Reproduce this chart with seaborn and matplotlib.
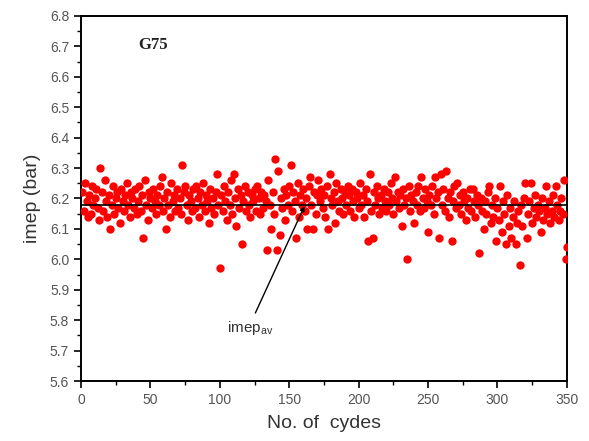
import matplotlib
matplotlib.use("Agg")
import matplotlib.pyplot as plt
import seaborn as sns
import numpy as np
import pandas as pd
from matplotlib.ticker import MultipleLocator

# ---- data ----
imep_values = [
    6.22, 6.16, 6.25, 6.19, 6.14, 6.21, 6.15, 6.24, 6.18, 6.20,
    6.23, 6.17, 6.13, 6.30, 6.22, 6.16, 6.26, 6.19, 6.14, 6.21,
    6.10, 6.18, 6.24, 6.15, 6.20, 6.22, 6.17, 6.12, 6.23, 6.19,
    6.16, 6.21, 6.25, 6.18, 6.14, 6.22, 6.20, 6.17, 6.23, 6.15,
    6.19, 6.24, 6.16, 6.21, 6.07, 6.26, 6.18, 6.13, 6.22, 6.20,
    6.17, 6.23, 6.19, 6.15, 6.21, 6.18, 6.24, 6.27, 6.16, 6.20,
    6.10, 6.22, 6.18, 6.14, 6.25, 6.19, 6.21, 6.16, 6.23, 6.17,
    6.20, 6.15, 6.31, 6.22, 6.24, 6.18, 6.13, 6.21, 6.19, 6.16,
    6.23, 6.17, 6.24, 6.20, 6.14, 6.22, 6.18, 6.25, 6.16, 6.21,
    6.19, 6.12, 6.23, 6.17, 6.20, 6.15, 6.22, 6.28, 6.18, 5.97,
    6.21, 6.16, 6.24, 6.19, 6.13, 6.22, 6.18, 6.26, 6.15, 6.28,
    6.20, 6.11, 6.23, 6.17, 6.21, 6.05, 6.19, 6.24, 6.16, 6.22,
    6.18, 6.14, 6.21, 6.19, 6.23, 6.16, 6.24, 6.20, 6.15, 6.22,
    6.17, 6.21, 6.19, 6.03, 6.26, 6.18, 6.10, 6.22, 6.15, 6.33,
    6.03, 6.29, 6.08, 6.20, 6.17, 6.23, 6.13, 6.21, 6.18, 6.24,
    6.31, 6.16, 6.22, 6.19, 6.07, 6.25, 6.14, 6.21, 6.18, 6.23,
    6.16, 6.20, 6.10, 6.24, 6.27, 6.18, 6.10, 6.22, 6.15, 6.21,
    6.26, 6.19, 6.23, 6.17, 6.21, 6.14, 6.24, 6.10, 6.28, 6.20,
    6.18, 6.22, 6.12, 6.25, 6.19, 6.16, 6.23, 6.20, 6.15, 6.22,
    6.18, 6.24, 6.21, 6.16, 6.23, 6.19, 6.14, 6.22, 6.20, 6.17,
    6.25, 6.18, 6.21, 6.14, 6.23, 6.19, 6.06, 6.28, 6.16, 6.07,
    6.22, 6.18, 6.24, 6.20, 6.15, 6.21, 6.17, 6.23, 6.19, 6.16,
    6.22, 6.18, 6.25, 6.20, 6.15, 6.27, 6.19, 6.22, 6.17, 6.21,
    6.11, 6.23, 6.18, 6.20, 6.00, 6.24, 6.16, 6.21, 6.19, 6.12,
    6.22, 6.18, 6.24, 6.16, 6.27, 6.20, 6.17, 6.23, 6.19, 6.09,
    6.21, 6.18, 6.24, 6.15, 6.27, 6.20, 6.22, 6.07, 6.28, 6.18,
    6.23, 6.16, 6.29, 6.20, 6.14, 6.22, 6.06, 6.19, 6.24, 6.17,
    6.25, 6.18, 6.21, 6.15, 6.22, 6.19, 6.13, 6.20, 6.17, 6.23,
    6.16, 6.23, 6.19, 6.14, 6.21, 6.18, 6.02, 6.20, 6.16, 6.10,
    6.19, 6.15, 6.22, 6.24, 6.12, 6.18, 6.14, 6.20, 6.06, 6.17,
    6.13, 6.24, 6.09, 6.19, 6.15, 6.05, 6.21, 6.11, 6.17, 6.07,
    6.14, 6.19, 6.05, 6.12, 6.16, 5.98, 6.18, 6.11, 6.20, 6.25,
    6.07, 6.15, 6.19, 6.25, 6.12, 6.17, 6.21, 6.14, 6.18, 6.16,
    6.09, 6.20, 6.13, 6.17, 6.24, 6.15, 6.19, 6.12, 6.16, 6.21,
    6.14, 6.24, 6.18, 6.13, 6.16, 6.20, 6.15, 6.26, 6.00, 6.04,
]
cycles = list(range(1, len(imep_values) + 1))
imep_av = 6.18
x_ticks = [0, 50, 100, 150, 200, 250, 300, 350]
y_ticks = [5.6, 5.7, 5.8, 5.9, 6.0, 6.1, 6.2, 6.3, 6.4, 6.5, 6.6, 6.7, 6.8]
panel_label = "G75"

df = pd.DataFrame({"cycle": cycles, "imep": imep_values})

sns.set_style("ticks")
plt.rcParams["font.family"] = ["Liberation Sans", "DejaVu Sans"]
plt.rcParams["mathtext.default"] = "regular"

fig = plt.figure(figsize=(5.89, 4.41), dpi=100)
ax = fig.add_axes([0.1375, 0.136, 0.825, 0.828])

sns.scatterplot(data=df, x="cycle", y="imep", ax=ax, color="#ff0000",
                s=36, marker="o", edgecolor="#ff0000", linewidth=0, zorder=3)

ax.axhline(imep_av, color="black", lw=1.2, zorder=4)

ax.set_xlim(0, 350)
ax.set_ylim(5.6, 6.8)
ax.set_xticks(x_ticks)
ax.set_yticks(y_ticks)
ax.xaxis.set_minor_locator(MultipleLocator(25))
ax.yaxis.set_minor_locator(MultipleLocator(0.05))
ax.set_yticklabels([f"{v:.1f}" for v in y_ticks])

for sp in ax.spines.values():
    sp.set_visible(True)
    sp.set_color("black")
    sp.set_linewidth(1.4)

ax.tick_params(axis="both", which="major", direction="out", length=5, width=1.2,
               labelsize=10, labelcolor="#555555", color="black",
               top=False, right=False)
ax.tick_params(axis="both", which="minor", direction="out", length=3, width=1.0,
               color="black", top=False, right=False)

ax.set_xlabel("No. of  cydes", fontsize=14, color="#333333", labelpad=6)
ax.set_ylabel("imep (bar)", fontsize=14, color="#333333", labelpad=6)

ax.text(41, 6.705, panel_label, fontsize=12, fontweight="bold",
        family=["Liberation Serif", "DejaVu Serif"], ha="left", va="center",
        color="#222222")

ax.annotate("imep$_{av}$", xy=(161, imep_av - 0.005), xytext=(122, 5.775),
            fontsize=11, color="#333333", ha="center", va="center",
            arrowprops=dict(arrowstyle="-|>", color="black", lw=1.0,
                            mutation_scale=7, shrinkA=2, shrinkB=0,
                            relpos=(0.55, 1.0)),
            zorder=5)

fig.savefig("out.png", dpi=100, facecolor="white")
